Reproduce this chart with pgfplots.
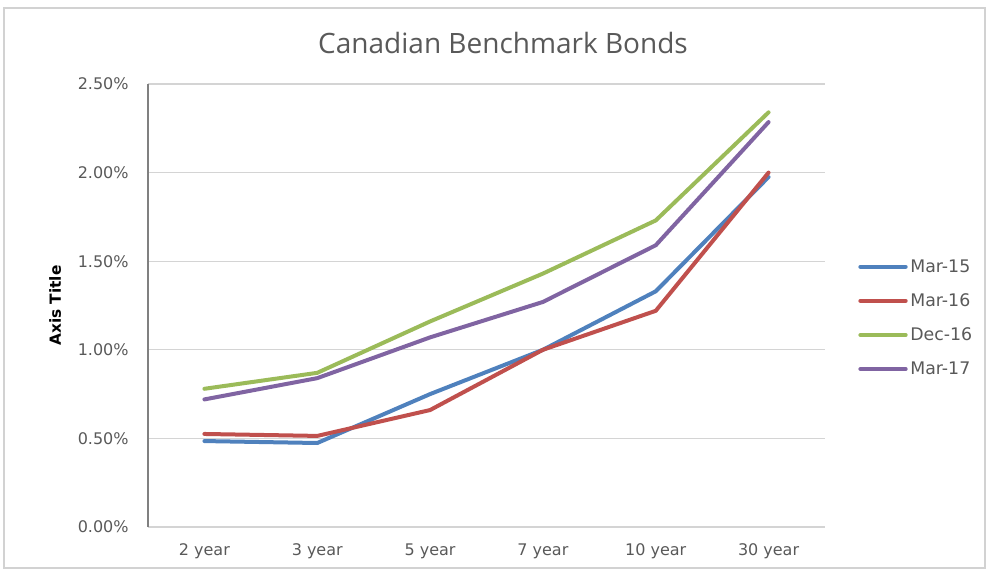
\documentclass[border=0pt]{standalone}
\usepackage{pgfplots}
\pgfplotsset{compat=1.18}
\usepackage{fontspec}
\setmainfont{DejaVu Sans}
\newfontfamily\titlefont{Open Sans}
\definecolor{c1}{HTML}{4F81BD}
\definecolor{c2}{HTML}{C0504D}
\definecolor{c3}{HTML}{9BBB59}
\definecolor{c4}{HTML}{8064A2}
\definecolor{txt}{HTML}{595959}
\begin{document}
\begin{tikzpicture}
\path[use as bounding box] (0,0) rectangle (741.75pt,428.25pt);
\draw[gray!35, line width=0.8pt] (3pt,2.25pt) rectangle (738.75pt,422.25pt);
\begin{axis}[
  at={(111pt,33pt)}, anchor=south west,
  scale only axis, width=507.75pt, height=332.25pt,
  xmin=-0.5, xmax=5.5, ymin=0, ymax=2.5,
  xtick={0,1,2,3,4,5},
  xticklabels={2 year,3 year,5 year,7 year,10 year,30 year},
  ytick={0,0.5,1,1.5,2,2.5},
  yticklabels={0.00\%,0.50\%,1.00\%,1.50\%,2.00\%,2.50\%},
  ymajorgrids, grid style={draw=black!17, line width=0.8pt},
  major tick length=0pt,
  axis x line*=bottom, axis y line*=left,
  x axis line style={draw=black!17, line width=0.8pt, -},
  y axis line style={draw=black!50, line width=0.8pt, -},
  tick label style={font=\fontsize{12}{14}\selectfont, text=txt},
  xticklabel style={yshift=-9pt},
  yticklabel style={xshift=-11pt},
  ylabel={\textbf{Axis Title}},
  ylabel style={at={(axis description cs:-0.137,0.5)}, anchor=center, rotate=0, font=\fontsize{11.5}{13}\selectfont},
  legend style={at={(1.043,0.472)}, anchor=west, draw=none, fill=none,
    font=\fontsize{13}{15}\selectfont, text=txt, row sep=10.5pt,
    /tikz/every even column/.append style={column sep=1pt}},
  legend image code/.code={\draw[#1, line width=3pt, line cap=round] (0pt,0pt) -- (34pt,0pt);},
  legend cell align=left,
  every axis plot/.append style={line width=3pt, line join=round, line cap=round},
  clip=false,
]
\addplot[c1] coordinates {(0,0.485) (1,0.474) (2,0.75) (3,1.0) (4,1.33) (5,1.975)};
\addlegendentry{Mar-15}
\addplot[c2] coordinates {(0,0.525) (1,0.514) (2,0.66) (3,1.0) (4,1.22) (5,2.0)};
\addlegendentry{Mar-16}
\addplot[c3] coordinates {(0,0.78) (1,0.87) (2,1.16) (3,1.43) (4,1.73) (5,2.34)};
\addlegendentry{Dec-16}
\addplot[c4] coordinates {(0,0.72) (1,0.84) (2,1.07) (3,1.27) (4,1.59) (5,2.285)};
\addlegendentry{Mar-17}
\end{axis}
\node[text=txt, font=\titlefont\fontsize{21}{24}\selectfont] at (377.25pt,396pt) {Canadian Benchmark Bonds};
\end{tikzpicture}
\end{document}
